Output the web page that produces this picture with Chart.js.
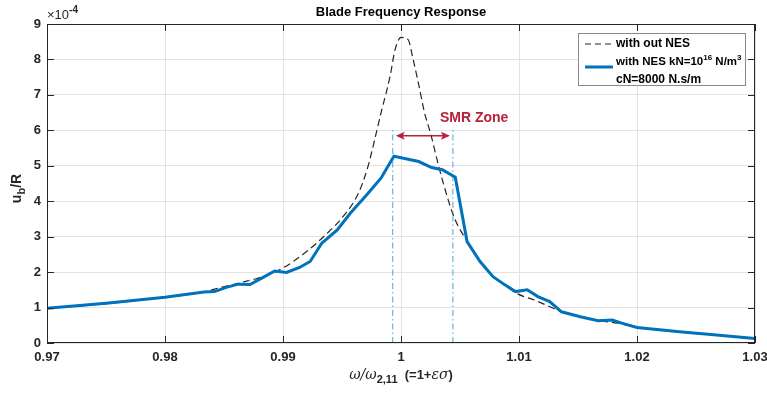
<!DOCTYPE html>
<html>
<head>
<meta charset="utf-8">
<script src="https://cdn.jsdelivr.net/npm/chart.js@4.4.0/dist/chart.umd.min.js"></script>
<style>
  html, body { margin: 0; padding: 0; background: #fff; }
  #wrap { width: 767px; height: 394px; }
</style>
</head>
<body>
<div id="wrap"><canvas id="freqChart"></canvas></div>
<script>
// values in units of 1e-4 (axis shows x10^-4)
const xNoNES = [0.97, 0.975, 0.98, 0.983, 0.9842, 0.9866, 0.9878, 0.99, 0.992, 0.9936, 0.9951, 0.9964,
  0.9972, 0.9979, 0.9984, 0.9987, 0.9991, 0.9995, 1.0, 1.0006, 1.001, 1.0015, 1.002, 1.0025, 1.0032,
  1.004, 1.0046, 1.0057, 1.0067, 1.0078, 1.0088, 1.0098, 1.0114, 1.0129, 1.0136, 1.0152, 1.0167,
  1.0184, 1.02, 1.0236, 1.0265, 1.03];
const yNoNES = [0.98, 1.11, 1.29, 1.42, 1.52, 1.72, 1.82, 2.12, 2.58, 3.05, 3.57, 4.23,
  4.98, 5.92, 6.62, 7.0, 7.57, 8.28, 8.62, 8.56, 8.04, 7.29, 6.49, 5.92, 4.98,
  4.04, 3.47, 2.82, 2.30, 1.87, 1.64, 1.40, 1.20, 0.98, 0.88, 0.74, 0.63,
  0.56, 0.44, 0.32, 0.23, 0.13];

const xNES = [0.97, 0.975, 0.9773, 0.98, 0.9833, 0.9842, 0.9852, 0.9862, 0.9872, 0.9882, 0.9893, 0.9903,
  0.9914, 0.9923, 0.9933, 0.9946, 0.9957, 0.9971, 0.9983, 0.9994, 1.0015, 1.0026, 1.0035, 1.0046,
  1.0056, 1.0067, 1.0078, 1.0088, 1.0097, 1.0107, 1.0116, 1.0126, 1.0136, 1.0152, 1.0167, 1.0179,
  1.0187, 1.02, 1.0236, 1.0265, 1.03];
const yNES = [0.98, 1.12, 1.2, 1.29, 1.44, 1.45, 1.57, 1.66, 1.65, 1.83, 2.03, 1.99,
  2.13, 2.30, 2.82, 3.19, 3.66, 4.18, 4.65, 5.27, 5.12, 4.95, 4.89, 4.68,
  2.86, 2.30, 1.87, 1.64, 1.45, 1.50, 1.31, 1.17, 0.88, 0.74, 0.63, 0.65,
  0.56, 0.44, 0.32, 0.23, 0.13];

const smrStart = 0.9993;
const smrEnd = 1.0044;
const smrTop = 6.1;
const smrArrowY = 5.85;

const xTickLabels = ['0.97', '0.98', '0.99', '1', '1.01', '1.02', '1.03'];
const yTickLabels = ['0', '1', '2', '3', '4', '5', '6', '7', '8', '9'];

const FONT = '"Liberation Sans", Arial, Helvetica, sans-serif';
const TXT = '#262626';

const toPoints = (xs, ys) => xs.map((x, i) => ({ x: x, y: ys[i] }));

// draws a run of text pieces: [text, font, dy]
const drawRuns = (ctx, runs, x, y, align) => {
  let total = 0;
  runs.forEach(r => { ctx.font = r[1]; total += ctx.measureText(r[0]).width; });
  let cx = align === 'center' ? x - total / 2 : x;
  ctx.textAlign = 'left';
  ctx.textBaseline = 'middle';
  runs.forEach(r => {
    ctx.font = r[1];
    ctx.fillText(r[0], cx, y + (r[2] || 0));
    cx += ctx.measureText(r[0]).width;
  });
};

const decorPlugin = {
  id: 'decor',
  afterDraw(chart) {
    const { ctx, chartArea: a, scales } = chart;
    const xs = scales.x, ys = scales.y;
    ctx.save();

    // axes box
    ctx.strokeStyle = '#262626';
    ctx.lineWidth = 1;
    ctx.strokeRect(a.left + 0.5, a.top + 0.5, a.right - a.left - 1, a.bottom - a.top - 1);

    // inner ticks, all four sides
    ctx.beginPath();
    xTickLabels.forEach((t) => {
      const px = Math.round(xs.getPixelForValue(parseFloat(t))) + 0.5;
      ctx.moveTo(px, a.bottom); ctx.lineTo(px, a.bottom - 7);
      ctx.moveTo(px, a.top); ctx.lineTo(px, a.top + 7);
    });
    yTickLabels.forEach((t) => {
      const py = Math.round(ys.getPixelForValue(parseFloat(t))) + 0.5;
      ctx.moveTo(a.left, py); ctx.lineTo(a.left + 7, py);
      ctx.moveTo(a.right, py); ctx.lineTo(a.right - 7, py);
    });
    ctx.stroke();

    ctx.fillStyle = '#000';
    // title
    ctx.font = 'bold 13px ' + FONT;
    ctx.textAlign = 'center';
    ctx.textBaseline = 'middle';
    ctx.fillText('Blade Frequency Response', (a.left + a.right) / 2, 12);

    // exponent
    ctx.fillStyle = TXT;
    drawRuns(ctx, [
      ['\u00d710', '13px ' + FONT, 0],
      ['-4', 'bold 10px ' + FONT, -5]
    ], a.left, 15, 'left');

    // x axis label
    drawRuns(ctx, [
      ['\u03c9/\u03c9', 'italic 14px "DejaVu Serif", serif', 0],
      ['2,11', 'bold 11px ' + FONT, 5],
      ['  (=1+', 'bold 13px ' + FONT, 0],
      ['\u03b5\u03c3', 'italic 14px "DejaVu Serif", serif', 0],
      [')', 'bold 13px ' + FONT, 0]
    ], (a.left + a.right) / 2, 375, 'center');

    // y axis label
    ctx.save();
    ctx.translate(17, (a.top + a.bottom) / 2 + 5);
    ctx.rotate(-Math.PI / 2);
    drawRuns(ctx, [
      ['u', 'bold 14px ' + FONT, 0],
      ['b', 'bold 11px ' + FONT, 5],
      ['/R', 'bold 14px ' + FONT, 0]
    ], 0, 0, 'center');
    ctx.restore();

    // SMR zone arrow
    const red = '#b5213b';
    const x1 = xs.getPixelForValue(smrStart) + 3;
    const x2 = xs.getPixelForValue(smrEnd) - 3;
    const ay = ys.getPixelForValue(smrArrowY);
    ctx.strokeStyle = red;
    ctx.fillStyle = red;
    ctx.lineWidth = 1.5;
    ctx.beginPath();
    ctx.moveTo(x1 + 4, ay); ctx.lineTo(x2 - 4, ay);
    ctx.stroke();
    ctx.beginPath();
    ctx.moveTo(x1, ay); ctx.lineTo(x1 + 9, ay - 4); ctx.lineTo(x1 + 7, ay); ctx.lineTo(x1 + 9, ay + 4); ctx.closePath();
    ctx.moveTo(x2, ay); ctx.lineTo(x2 - 9, ay - 4); ctx.lineTo(x2 - 7, ay); ctx.lineTo(x2 - 9, ay + 4); ctx.closePath();
    ctx.fill();
    ctx.font = 'bold 14px ' + FONT;
    ctx.textAlign = 'left';
    ctx.textBaseline = 'middle';
    ctx.fillText('SMR Zone', xs.getPixelForValue(1.0033), ys.getPixelForValue(6.33));

    // legend
    const lx = 578, ly = 33, lw = 167, lh = 52;
    ctx.fillStyle = '#fff';
    ctx.fillRect(lx, ly, lw, lh);
    ctx.strokeStyle = '#8a8a8a';
    ctx.lineWidth = 1;
    ctx.strokeRect(lx + 0.5, ly + 0.5, lw, lh);
    ctx.strokeStyle = '#222';
    ctx.lineWidth = 1.2;
    ctx.setLineDash([6, 4]);
    ctx.beginPath(); ctx.moveTo(585, 44); ctx.lineTo(613, 44); ctx.stroke();
    ctx.setLineDash([]);
    ctx.strokeStyle = '#0072BD';
    ctx.lineWidth = 3;
    ctx.beginPath(); ctx.moveTo(585, 67); ctx.lineTo(613, 67); ctx.stroke();
    ctx.fillStyle = '#000';
    drawRuns(ctx, [['with out NES', 'bold 12px ' + FONT, 0]], 616, 44, 'left');
    drawRuns(ctx, [
      ['with NES kN=10', 'bold 11.5px ' + FONT, 0],
      ['16', 'bold 8px ' + FONT, -4],
      [' N/m', 'bold 11.5px ' + FONT, 0],
      ['3', 'bold 8px ' + FONT, -4]
    ], 616, 62, 'left');
    drawRuns(ctx, [['cN=8000 N.s/m', 'bold 12px ' + FONT, 0]], 616, 80, 'left');

    ctx.restore();
  }
};

const chart = new Chart(document.getElementById('freqChart'), {
  type: 'line',
  data: {
    datasets: [
      {
        label: 'with out NES',
        data: toPoints(xNoNES, yNoNES),
        borderColor: '#262626',
        borderWidth: 1.2,
        borderDash: [7, 4],
        cubicInterpolationMode: 'monotone',
        pointRadius: 0,
        fill: false,
        order: 3
      },
      {
        label: 'with NES',
        data: toPoints(xNES, yNES),
        borderColor: '#0072BD',
        borderWidth: 3,
        tension: 0,
        pointRadius: 0,
        fill: false,
        order: 1
      },
      {
        label: 'smr start',
        data: [{ x: smrStart, y: 0 }, { x: smrStart, y: smrTop }],
        borderColor: '#4fa3db',
        borderWidth: 1,
        borderDash: [6, 3, 1.5, 3],
        pointRadius: 0,
        order: 2
      },
      {
        label: 'smr end',
        data: [{ x: smrEnd, y: 0 }, { x: smrEnd, y: smrTop }],
        borderColor: '#4fa3db',
        borderWidth: 1,
        borderDash: [6, 3, 1.5, 3],
        pointRadius: 0,
        order: 2
      }
    ]
  },
  options: {
    responsive: true,
    maintainAspectRatio: false,
    animation: false,
    layout: { padding: { top: 24, right: 12, left: 0, bottom: 0 } },
    plugins: {
      legend: { display: false },
      title: { display: false },
      tooltip: { enabled: false }
    },
    scales: {
      x: {
        type: 'linear',
        min: 0.97,
        max: 1.03,
        afterFit: (scale) => {
          scale.height = 51;
          scale.paddingLeft = 0;
          scale.paddingRight = 0;
        },
        afterBuildTicks: (scale) => {
          scale.ticks = xTickLabels.map(t => ({ value: parseFloat(t) }));
        },
        grid: { color: '#e3e3e3', drawTicks: false },
        border: { display: false },
        ticks: {
          padding: 7,
          color: TXT,
          font: { family: FONT, size: 13, weight: 'bold' },
          maxRotation: 0,
          callback: (v, i) => xTickLabels[i]
        }
      },
      y: {
        min: 0,
        max: 9,
        afterFit: (scale) => {
          scale.width = 47;
          scale.paddingTop = 0;
          scale.paddingBottom = 0;
        },
        afterBuildTicks: (scale) => {
          scale.ticks = yTickLabels.map(t => ({ value: parseFloat(t) }));
        },
        grid: { color: '#e3e3e3', drawTicks: false },
        border: { display: false },
        ticks: {
          padding: 6,
          color: TXT,
          font: { family: FONT, size: 13, weight: 'bold' },
          callback: (v, i) => yTickLabels[i]
        }
      }
    }
  },
  plugins: [decorPlugin]
});
</script>
</body>
</html>
